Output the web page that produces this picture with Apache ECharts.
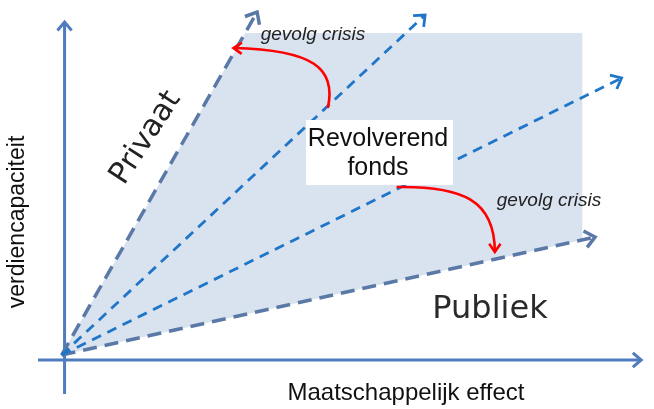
<!DOCTYPE html>
<html>
<head>
<meta charset="utf-8">
<script src="https://cdn.jsdelivr.net/npm/echarts@6/dist/echarts.min.js"></script>
<style>
    html, body { margin: 0; padding: 0; background: #ffffff; }
    #chart { width: 654px; height: 409px; }
</style>
</head>
<body>
<div id="chart"></div>
<script>
// assen (grafiek-eenheden, oorsprong = kruispunt van de assen)
var axisFrom = [[-5.4, 0], [0, -6.8]];
var axisTo = [[117.4, 0], [0, 67.6]];

// stralen vanuit de oorsprong: Privaat, twee tussenlijnen, Publiek
var rayStart = [-0.6, 1];
var rayNames = ['Privaat', 'tussen 1', 'tussen 2', 'Publiek'];
var rayEndX = [39.2, 73.4, 113.4, 108];
var rayEndY = [69.6, 69, 56.4, 24.6];

// gebied van het revolverend fonds
var shadeX = [-0.6, 36.8, 105.4, 105.4];
var shadeY = [1, 65.4, 65.4, 24.0];

// "gevolg crisis" pijlen (bezier: start, controle 1, controle 2, eind)
var crisisTopX = [53.6, 55.4, 50.6, 34.4];
var crisisTopY = [50.4, 58.4, 62, 62.4];
var crisisBottomX = [67.6, 81, 87.6, 87.6];
var crisisBottomY = [34.6, 34.8, 32, 21.6];

var chart = echarts.init(document.getElementById('chart'));

function chevron(tip, ux, uy, len, ang) {
    var c = Math.cos(ang), s = Math.sin(ang);
    var l1 = [ux * c - uy * s, ux * s + uy * c];
    var l2 = [ux * c + uy * s, -ux * s + uy * c];
    return [
        [tip[0] - len * l1[0], tip[1] - len * l1[1]],
        [tip[0], tip[1]],
        [tip[0] - len * l2[0], tip[1] - len * l2[1]]
    ];
}

function arrowSeries(rows, color, width, dash, head) {
    return {
        type: 'custom',
        data: rows,
        encode: { x: [0, 2], y: [1, 3] },
        silent: true,
        z: 5,
        renderItem: function (params, api) {
            var a = api.coord([api.value(0), api.value(1)]);
            var b = api.coord([api.value(2), api.value(3)]);
            var dx = b[0] - a[0], dy = b[1] - a[1];
            var len = Math.sqrt(dx * dx + dy * dy);
            var ux = dx / len, uy = dy / len;
            return {
                type: 'group',
                children: [{
                    type: 'line',
                    shape: { x1: a[0], y1: a[1], x2: b[0] - ux * 2, y2: b[1] - uy * 2 },
                    style: { stroke: color, lineWidth: width, lineDash: dash }
                }, {
                    type: 'polyline',
                    shape: { points: chevron(b, ux, uy, head, 0.7) },
                    style: { stroke: color, lineWidth: width, fill: null }
                }]
            };
        }
    };
}

function curveSeries(xs, ys) {
    return {
        type: 'custom',
        data: [[xs[0], ys[0], xs[3], ys[3]]],
        encode: { x: [0, 2], y: [1, 3] },
        silent: true,
        z: 20,
        renderItem: function (params, api) {
            var p = xs.map(function (x, i) { return api.coord([x, ys[i]]); });
            var dx = p[3][0] - p[2][0], dy = p[3][1] - p[2][1];
            var len = Math.sqrt(dx * dx + dy * dy);
            return {
                type: 'group',
                children: [{
                    type: 'bezierCurve',
                    shape: {
                        x1: p[0][0], y1: p[0][1], x2: p[3][0], y2: p[3][1],
                        cpx1: p[1][0], cpy1: p[1][1], cpx2: p[2][0], cpy2: p[2][1]
                    },
                    style: { stroke: '#ff0000', lineWidth: 2.6, fill: null }
                }, {
                    type: 'polyline',
                    shape: { points: chevron(p[3], dx / len, dy / len, 10, 0.6) },
                    style: { stroke: '#ff0000', lineWidth: 2.6, fill: null }
                }]
            };
        }
    };
}

var grey = [], blue = [];
rayNames.forEach(function (n, i) {
    var row = [rayStart[0], rayStart[1], rayEndX[i], rayEndY[i]];
    if (n === 'Privaat' || n === 'Publiek') grey.push(row); else blue.push(row);
});

var option = {
    animation: false,
    grid: { left: 40, top: 10, width: 625, height: 385 },
    xAxis: { type: 'value', min: -5, max: 120, show: false },
    yAxis: { type: 'value', min: -7, max: 70, show: false },
    series: [
        {
            type: 'custom',
            data: shadeX.map(function (x, i) { return [x, shadeY[i]]; }),
            silent: true,
            z: 1,
            renderItem: function (params, api) {
                if (params.dataIndex !== 0) return;
                var pts = shadeX.map(function (x, i) { return api.coord([x, shadeY[i]]); });
                return { type: 'polygon', shape: { points: pts }, style: { fill: '#d9e2ef' } };
            }
        },
        arrowSeries(axisFrom.map(function (f, i) { return [f[0], f[1], axisTo[i][0], axisTo[i][1]]; }), '#4f7cbf', 3, null, 11),
        arrowSeries(grey, '#5b79a6', 3.5, [14, 8], 13),
        arrowSeries(blue, '#1f76c8', 2.8, [10, 7], 12),
        curveSeries(crisisTopX, crisisTopY),
        curveSeries(crisisBottomX, crisisBottomY)
    ],
    graphic: [
        { type: 'rect', z: 10, shape: { x: 306, y: 120, width: 147, height: 65 }, style: { fill: '#ffffff' } },
        { type: 'text', z: 30, x: 378, y: 139, style: { text: 'Revolverend', font: '25px "Liberation Sans", Arial', fill: '#111', align: 'center', verticalAlign: 'middle' } },
        { type: 'text', z: 30, x: 378, y: 168, style: { text: 'fonds', font: '25px "Liberation Sans", Arial', fill: '#111', align: 'center', verticalAlign: 'middle' } },
        { type: 'text', z: 30, x: 313, y: 35, style: { text: 'gevolg crisis', font: 'italic 19px "Liberation Sans", Arial', fill: '#222', align: 'center', verticalAlign: 'middle' } },
        { type: 'text', z: 30, x: 549, y: 201, style: { text: 'gevolg crisis', font: 'italic 19px "Liberation Sans", Arial', fill: '#222', align: 'center', verticalAlign: 'middle' } },
        { type: 'text', z: 30, x: 146, y: 138, rotation: 57 * Math.PI / 180, style: { text: 'Privaat', font: '30px "DejaVu Sans"', fill: '#222', align: 'center', verticalAlign: 'middle' } },
        { type: 'text', z: 30, x: 490, y: 310, style: { text: 'Publiek', font: '32px "DejaVu Sans"', fill: '#2a2a2a', align: 'center', verticalAlign: 'middle' } },
        { type: 'text', z: 30, x: 406, y: 393, style: { text: 'Maatschappelijk effect', font: '24px "Liberation Sans", Arial', fill: '#111', align: 'center', verticalAlign: 'middle' } },
        { type: 'text', z: 30, x: 18, y: 222, rotation: Math.PI / 2, style: { text: 'verdiencapaciteit', font: '23px "Liberation Sans", Arial', fill: '#111', align: 'center', verticalAlign: 'middle' } }
    ]
};
chart.setOption(option);
</script>
</body>
</html>
